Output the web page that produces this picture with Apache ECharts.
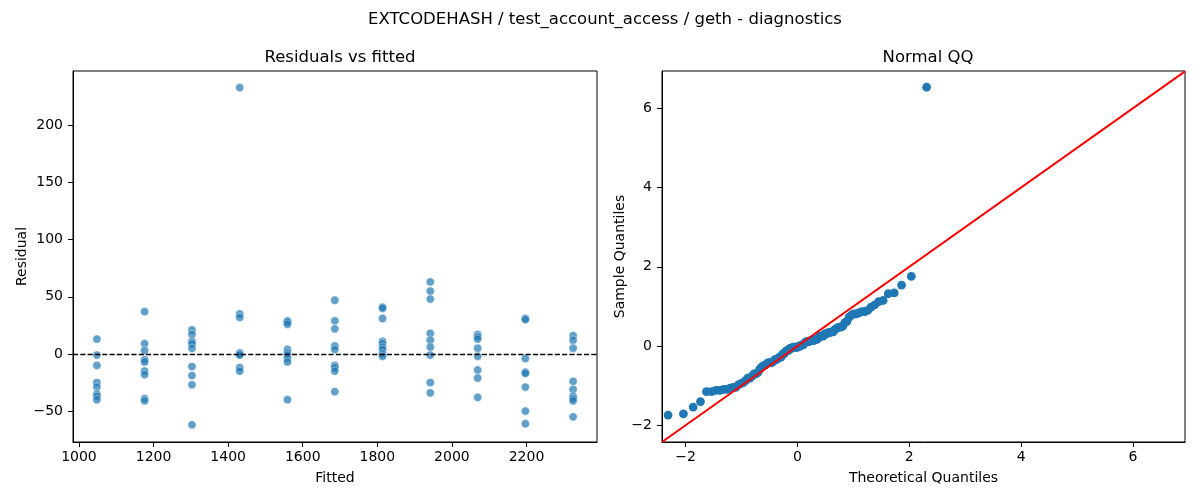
<!DOCTYPE html>
<html>
<head>
<meta charset="utf-8">
<script src="https://cdn.jsdelivr.net/npm/echarts@6/dist/echarts.min.js"></script>
<style>
  html, body { margin: 0; padding: 0; background: #fff; }
  #main { width: 1200px; height: 500px; }
</style>
</head>
<body>
<div id="main"></div>
<script>
// fitted levels (x) and the residuals
const fittedLevels = [1048, 1176, 1303, 1431, 1559, 1686, 1814, 1942, 2069, 2197, 2325];
const residualsByLevel = [
  [13, -1, -10, -25, -29, -35, -37, -40],
  [37, 9, 3, -5, -7, -15, -18, -39, -41],
  [21, 17, 11, 9, 5, -11, -19, -27, -62],
  [233, 35, 32, 1, 0, -1, -12, -15],
  [29, 28, 26, 4, 1, -1, -4, -7, -40],
  [47, 29, 22, 7, 4, -10, -12, -15, -33],
  [41, 40, 31, 11, 9, 6, 4, 0, -2],
  [63, 55, 48, 18, 12, 6, -1, -25, -34],
  [17, 15, 13, 5, -2, -14, -21, -38],
  [31, 30, -4, -16, -17, -29, -50, -61],
  [16, 12, 5, -24, -31, -37, -39, -41, -55]
];

// normal QQ: theoretical vs sample quantiles (ascending)
const qqTheoretical = [
  -2.311, -2.037, -1.863, -1.732, -1.625, -1.534, -1.455, -1.383, -1.318, -1.258,
  -1.203, -1.150, -1.101, -1.055, -1.010, -0.967, -0.926, -0.887, -0.849, -0.812,
  -0.776, -0.742, -0.708, -0.674, -0.642, -0.610, -0.579, -0.549, -0.519, -0.489,
  -0.460, -0.431, -0.402, -0.374, -0.347, -0.319, -0.292, -0.264, -0.237, -0.210,
  -0.184, -0.157, -0.131, -0.105, -0.078, -0.052, -0.026, 0.000, 0.026, 0.052,
  0.078, 0.105, 0.131, 0.157, 0.184, 0.210, 0.237, 0.264, 0.292, 0.319,
  0.347, 0.374, 0.402, 0.431, 0.460, 0.489, 0.519, 0.549, 0.579, 0.610,
  0.642, 0.674, 0.708, 0.742, 0.776, 0.812, 0.849, 0.887, 0.926, 0.967,
  1.010, 1.055, 1.101, 1.150, 1.203, 1.258, 1.318, 1.383, 1.455, 1.534,
  1.625, 1.732, 1.863, 2.037, 2.311
];
const qqSample = [
  -1.74, -1.71, -1.54, -1.40, -1.15, -1.15, -1.12, -1.12, -1.09, -1.09,
  -1.06, -1.04, -1.04, -0.98, -0.95, -0.92, -0.87, -0.81, -0.81, -0.76,
  -0.70, -0.70, -0.67, -0.59, -0.53, -0.50, -0.48, -0.45, -0.42, -0.42,
  -0.42, -0.39, -0.34, -0.34, -0.31, -0.28, -0.28, -0.20, -0.20, -0.14,
  -0.11, -0.11, -0.06, -0.06, -0.03, -0.03, -0.03, -0.03, 0.00, 0.00,
  0.03, 0.03, 0.08, 0.11, 0.11, 0.11, 0.14, 0.14, 0.14, 0.17,
  0.17, 0.20, 0.25, 0.25, 0.25, 0.31, 0.31, 0.34, 0.34, 0.36,
  0.36, 0.42, 0.45, 0.48, 0.48, 0.50, 0.59, 0.62, 0.73, 0.78,
  0.81, 0.81, 0.84, 0.87, 0.87, 0.90, 0.98, 1.04, 1.12, 1.15,
  1.32, 1.34, 1.54, 1.76, 6.53
];

// tick labels
const residXTicks = [1000, 1200, 1400, 1600, 1800, 2000, 2200];
const residYTicks = [-50, 0, 50, 100, 150, 200];
const qqXTicks = [-2, 0, 2, 4, 6];
const qqYTicks = [-2, 0, 2, 4, 6];

const residPoints = [];
fittedLevels.forEach((f, i) => {
  residualsByLevel[i].forEach(r => residPoints.push([f, r]));
});
const qqPoints = qqTheoretical.map((t, i) => [t, qqSample[i]]);

const qqXRange = [-2.42, 6.93];
const qqYRange = [-2.42, 6.94];
const lineLo = Math.max(qqXRange[0], qqYRange[0]);
const lineHi = Math.min(qqXRange[1], qqYRange[1]);

const FONT = 'DejaVu Sans';
const black = '#000';

function valueAxis(gridIndex, min, max, ticks, name, nameGap, isX) {
  return {
    type: 'value',
    gridIndex: gridIndex,
    min: min,
    max: max,
    name: name,
    nameLocation: 'middle',
    nameGap: nameGap,
    nameTextStyle: { fontFamily: FONT, fontSize: 14, color: black },
    axisLine: { show: true, onZero: false, lineStyle: { color: black, width: 1 } },
    axisTick: { show: true, length: 5, customValues: ticks, lineStyle: { color: black, width: 1 } },
    axisLabel: {
      customValues: ticks,
      fontFamily: FONT, fontSize: 14, color: black,
      margin: isX ? 8 : 10,
      formatter: v => (v < 0 ? '\u2212' + Math.abs(v) : String(v))
    },
    splitLine: { show: false }
  };
}

const chart = echarts.init(document.getElementById('main'));
chart.setOption({
  animation: false,
  backgroundColor: '#fff',
  title: [
    {
      text: 'EXTCODEHASH / test_account_access / geth - diagnostics',
      left: 600, top: 6, textAlign: 'center',
      textStyle: { fontFamily: FONT, fontSize: 16.5, fontWeight: 'normal', color: black }
    },
    {
      text: 'Residuals vs fitted',
      left: 335, top: 44, textAlign: 'center',
      textStyle: { fontFamily: FONT, fontSize: 16.5, fontWeight: 'normal', color: black }
    },
    {
      text: 'Normal QQ',
      left: 923, top: 44, textAlign: 'center',
      textStyle: { fontFamily: FONT, fontSize: 16.5, fontWeight: 'normal', color: black }
    }
  ],
  grid: [
    { left: 73, top: 71, width: 524, height: 371, show: true, borderColor: black, borderWidth: 1, backgroundColor: 'transparent' },
    { left: 662, top: 71, width: 523, height: 371, show: true, borderColor: black, borderWidth: 1, backgroundColor: 'transparent' }
  ],
  xAxis: [
    valueAxis(0, 984, 2389, residXTicks, 'Fitted', 29, true),
    valueAxis(1, qqXRange[0], qqXRange[1], qqXTicks, 'Theoretical Quantiles', 29, true)
  ],
  yAxis: [
    valueAxis(0, -77, 247.5, residYTicks, 'Residual', 44, false),
    valueAxis(1, qqYRange[0], qqYRange[1], qqYTicks, 'Sample Quantiles', 30, false)
  ],
  series: [
    {
      type: 'scatter',
      xAxisIndex: 0, yAxisIndex: 0,
      data: residPoints,
      symbolSize: 8.3,
      itemStyle: { color: '#1f77b4', opacity: 0.7, borderColor: '#fff', borderWidth: 0.6 },
      markLine: {
        silent: true,
        symbol: ['none', 'none'],
        label: { show: false },
        lineStyle: { color: black, width: 1.4, type: [5.1, 2.2] },
        data: [{ yAxis: 0 }]
      }
    },
    {
      type: 'scatter',
      xAxisIndex: 1, yAxisIndex: 1,
      data: qqPoints,
      symbolSize: 8.8,
      itemStyle: { color: '#1f77b4', opacity: 1 }
    },
    {
      type: 'line',
      xAxisIndex: 1, yAxisIndex: 1,
      data: [[lineLo, lineLo], [lineHi, lineHi]],
      symbol: 'none',
      lineStyle: { color: '#ff0000', width: 2 },
      z: 3
    }
  ]
});
</script>
</body>
</html>
